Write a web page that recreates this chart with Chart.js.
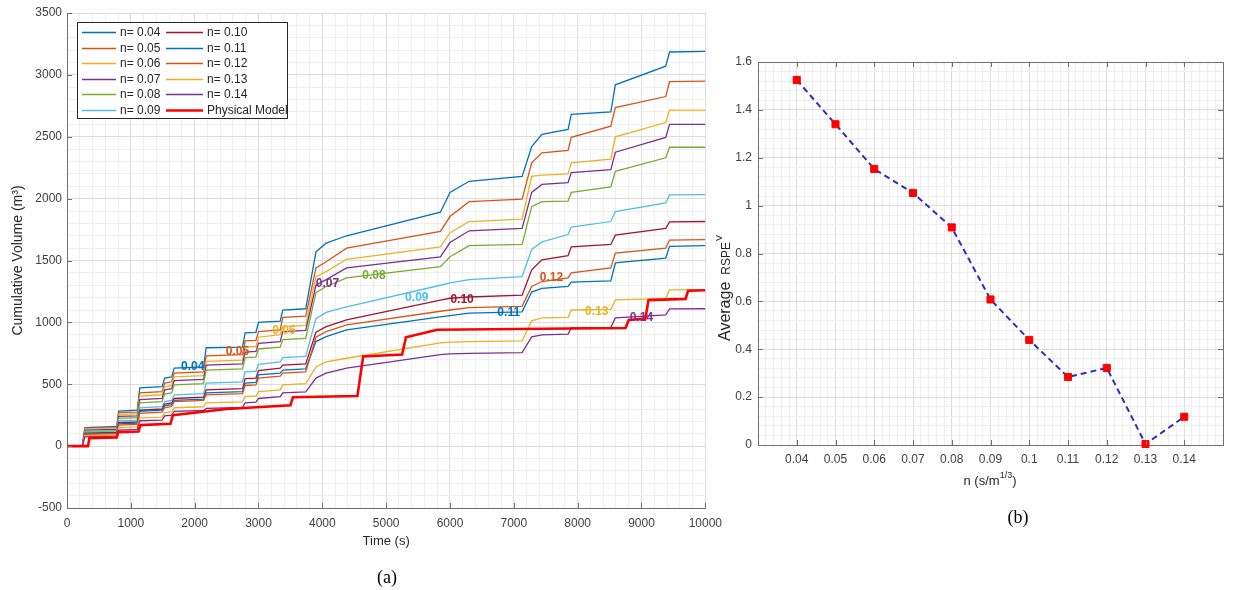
<!DOCTYPE html>
<html><head><meta charset="utf-8">
<script src="https://cdn.jsdelivr.net/npm/chart.js@4.4.0/dist/chart.umd.min.js"></script>
<style>
html,body{margin:0;padding:0;background:#fff;width:1243px;height:590px;overflow:hidden;}
#ca{position:absolute;left:0;top:0;}
#cb{position:absolute;left:700px;top:0;}
.cap{position:absolute;font-family:"Liberation Serif","Times New Roman",serif;font-size:18px;color:#000;transform:translate(-50%,-50%);}
</style></head><body>
<canvas id="ca" width="730" height="590"></canvas>
<canvas id="cb" width="543" height="590"></canvas>
<div class="cap" style="left:387px;top:577px">(a)</div>
<div class="cap" style="left:1018px;top:517px">(b)</div>
<script>
// ---------- Panel (a) data ----------
const timeT = [0,240,280,780,810,1100,1140,1490,1530,1640,1680,2140,2180,2750,2790,2960,3000,3340,3380,3740,3900,4060,4380,5850,6000,6300,7130,7280,7440,7850,7900,8520,8590,9380,9440,10000];
const n04 = [0,0,150,160,283,290,470,480,550,560,630,640,795,800,915,920,1000,1010,1100,1110,1570,1640,1700,1890,2050,2140,2180,2420,2520,2560,2680,2700,2920,3070,3185,3190];
const n05 = [0,0,145,150,270,275,430,440,510,520,590,600,730,740,850,855,925,940,1040,1050,1440,1490,1600,1735,1855,1975,1995,2290,2370,2390,2495,2585,2735,2825,2945,2950];
const n06 = [0,0,140,145,255,260,405,415,480,490,560,570,685,695,800,805,880,900,965,975,1370,1410,1510,1610,1725,1815,1835,2180,2190,2200,2290,2320,2500,2615,2715,2715];
const n07 = [0,0,130,135,240,245,375,385,455,465,530,540,655,665,760,765,830,845,925,935,1300,1345,1440,1530,1645,1740,1760,2050,2115,2130,2210,2235,2375,2495,2600,2600];
const n08 = [0,0,120,125,225,230,350,360,420,430,495,505,615,625,715,720,785,800,860,870,1240,1290,1360,1450,1530,1620,1630,1935,1975,1980,2050,2095,2220,2330,2415,2415];
const n09 = [0,0,115,120,205,210,310,320,360,370,415,425,510,520,600,605,660,680,715,725,1030,1080,1125,1300,1320,1345,1370,1590,1650,1710,1770,1815,1895,1965,2030,2032];
const n10 = [0,0,105,110,190,195,290,300,340,350,385,395,455,465,545,550,610,630,655,665,920,965,1020,1180,1195,1205,1220,1425,1505,1540,1610,1630,1705,1760,1812,1815];
const n11 = [0,0,100,105,180,185,280,290,325,335,370,380,430,440,510,515,575,590,615,625,845,885,940,1045,1055,1075,1085,1245,1275,1290,1325,1335,1480,1520,1615,1620];
const n12 = [0,0,95,100,170,175,265,275,310,320,360,370,415,425,490,495,550,565,590,600,880,925,980,1090,1100,1120,1130,1290,1330,1360,1400,1440,1560,1600,1665,1668];
const n13 = [0,0,85,90,150,155,228,235,270,278,310,318,350,358,400,405,440,455,495,505,640,680,710,835,840,845,850,1012,1036,1040,1100,1105,1182,1192,1263,1265];
const n14 = [0,0,75,80,130,135,205,210,245,250,280,288,305,312,350,355,385,400,430,438,550,590,630,740,745,750,755,883,899,905,955,960,1036,1060,1109,1110];
const physT = [0,330,350,780,800,1120,1150,1620,1660,2500,3500,3540,4550,4640,5250,5310,5800,8750,8800,9060,9110,9690,9730,10000];
const physV = [0,0,65,70,113,118,170,180,250,300,330,395,405,725,740,880,940,955,1020,1030,1180,1190,1255,1260];
const seriesNames = ['0.04','0.05','0.06','0.07','0.08','0.09','0.10','0.11','0.12','0.13','0.14'];
const seriesColors = ['#0072BD','#D95319','#EDB120','#7E2F8E','#77AC30','#4DBEEE','#A2142F','#0072BD','#D95319','#EDB120','#7E2F8E'];
const labelT = [1970,2670,3400,4080,4810,5480,6190,6920,7590,8300,9000];
const labelV = [640,761,931,1312,1377,1198,1182,1077,1360,1085,1036];
const xTicksA = [0,1000,2000,3000,4000,5000,6000,7000,8000,9000,10000];
const yTicksA = [-500,0,500,1000,1500,2000,2500,3000,3500];

// ---------- Panel (b) data ----------
const nVals = [0.04,0.05,0.06,0.07,0.08,0.09,0.10,0.11,0.12,0.13,0.14];
const rspe = [1.525,1.34,1.153,1.053,0.909,0.608,0.439,0.284,0.322,0.004,0.118];
const xTicksB = [0.04,0.05,0.06,0.07,0.08,0.09,0.1,0.11,0.12,0.13,0.14];
const yTicksB = [0,0.2,0.4,0.6,0.8,1,1.2,1.4,1.6];

Chart.defaults.font.family = '"Liberation Sans", Arial, sans-serif';
const MAJOR = '#dcdcdc', MINOR = '#efefef', AXIS = '#707070', TXT = '#404040';
const isIn = (arr, v) => arr.some(t => Math.abs(t - v) < 1e-9);
const seq = (a, b, step, dec) => { const r = []; const n = Math.round((b - a) / step); for (let i = 0; i <= n; i++) r.push(+(a + i * step).toFixed(dec)); return r; };

const inTicks = {
  id: 'inTicks',
  afterDatasetsDraw(chart, args, o) {
    const {ctx, chartArea: a} = chart; const xs = chart.scales.x, ys = chart.scales.y;
    ctx.save(); ctx.strokeStyle = AXIS; ctx.lineWidth = 1; ctx.beginPath();
    for (const v of o.xMajor) { const p = Math.round(xs.getPixelForValue(v)) + 0.5;
      ctx.moveTo(p, a.bottom); ctx.lineTo(p, a.bottom - o.len);
      if (o.box) { ctx.moveTo(p, a.top); ctx.lineTo(p, a.top + o.len); } }
    for (const v of o.yMajor) { const p = Math.round(ys.getPixelForValue(v)) + 0.5;
      ctx.moveTo(a.left, p); ctx.lineTo(a.left + o.len, p);
      if (o.box) { ctx.moveTo(a.right, p); ctx.lineTo(a.right - o.len, p); } }
    if (o.box) { const t = Math.round(a.top) + 0.5, r = Math.round(a.right) + 0.5;
      ctx.moveTo(a.left, t); ctx.lineTo(r, t); ctx.lineTo(r, a.bottom); }
    ctx.stroke(); ctx.restore();
  }
};

const seriesValues = [n04,n05,n06,n07,n08,n09,n10,n11,n12,n13,n14];
const dsA = seriesValues.map((vals, i) => ({
  label: 'n= ' + seriesNames[i],
  data: timeT.map((t, j) => ({x: t, y: vals[j]})),
  borderColor: seriesColors[i], borderWidth: 1.3, pointRadius: 0, order: 13 - i
}));
dsA.push({label: 'Physical Model', data: physT.map((t, j) => ({x: t, y: physV[j]})),
  borderColor: '#FF0000', borderWidth: 2.6, pointRadius: 0, order: 1});

const inlineLabels = {
  id: 'inlineLabels',
  afterDatasetsDraw(chart) {
    const {ctx} = chart; const xs = chart.scales.x, ys = chart.scales.y;
    ctx.save(); ctx.font = 'bold 12px "Liberation Sans", Arial, sans-serif';
    ctx.textAlign = 'center'; ctx.textBaseline = 'middle';
    seriesNames.forEach((s, i) => { ctx.fillStyle = seriesColors[i];
      ctx.fillText(s, xs.getPixelForValue(labelT[i]), ys.getPixelForValue(labelV[i])); });
    ctx.restore();
  }
};

const legendBox = {
  id: 'legendBox',
  afterDraw(chart) {
    const {ctx} = chart; const ds = chart.data.datasets;
    ctx.save();
    ctx.fillStyle = '#fff'; ctx.fillRect(77, 22, 211, 97);
    ctx.strokeStyle = '#262626'; ctx.lineWidth = 1; ctx.strokeRect(77.5, 22.5, 210, 96);
    ctx.font = '12px "Liberation Sans", Arial, sans-serif'; ctx.textBaseline = 'middle'; ctx.fillStyle = '#262626';
    const rowY = [32, 48, 63, 79, 94, 110];
    ds.forEach((d, i) => {
      const col = i < 6 ? 0 : 1; const row = i < 6 ? i : i - 6;
      const y = rowY[row] + 0.5; const x0 = col ? 166 : 82, x1 = col ? 203 : 116, tx = col ? 207 : 120;
      ctx.strokeStyle = d.borderColor; ctx.lineWidth = d.borderWidth;
      ctx.beginPath(); ctx.moveTo(x0, y); ctx.lineTo(x1, y); ctx.stroke();
      ctx.fillStyle = '#262626'; ctx.fillText(d.label, tx, rowY[row] + 1);
    });
    ctx.restore();
  }
};

new Chart(document.getElementById('ca'), {
  type: 'line',
  data: {datasets: dsA},
  plugins: [inTicks, inlineLabels, legendBox],
  options: {
    responsive: false, animation: false, devicePixelRatio: 1, events: [],
    layout: {padding: {left: 0, right: 23, top: 13, bottom: 0}},
    elements: {line: {tension: 0}},
    plugins: {legend: {display: false}, tooltip: {enabled: false},
      inTicks: {xMajor: xTicksA, yMajor: yTicksA, len: 5, box: false}},
    scales: {
      x: {type: 'linear', min: 0, max: 10000,
        afterBuildTicks: s => { s.ticks = seq(0, 10000, 200, 0).map(v => ({value: v})); },
        afterFit: s => { s.height = 82; },
        ticks: {autoSkip: false, maxRotation: 0, minRotation: 0, padding: 8, color: TXT, font: {size: 12},
          callback: v => isIn(xTicksA, v) ? String(v) : ''},
        grid: {drawTicks: false, color: c => (c.tick && isIn(xTicksA, c.tick.value)) ? MAJOR : MINOR},
        border: {display: true, color: AXIS, width: 1},
        title: {display: true, text: 'Time (s)', color: '#262626', font: {size: 13}, padding: {top: 0, bottom: 41}}},
      y: {type: 'linear', min: -500, max: 3500,
        afterBuildTicks: s => { s.ticks = seq(-500, 3500, 100, 0).map(v => ({value: v})); },
        afterFit: s => { s.width = 67; },
        ticks: {autoSkip: false, padding: 5, color: TXT, font: {size: 12},
          callback: v => isIn(yTicksA, v) ? String(v) : ''},
        grid: {drawTicks: false, color: c => (c.tick && isIn(yTicksA, c.tick.value)) ? MAJOR : MINOR},
        border: {display: true, color: AXIS, width: 1},
        title: {display: true, text: 'Cumulative Volume (m³)', color: '#262626', font: {size: 14}, padding: {top: 10, bottom: 0}}}
    }
  }
});

// ---------- Panel (b) ----------
const OX = 700; // canvas offset on the page
const titlesB = {
  id: 'titlesB',
  afterDraw(chart) {
    const {ctx} = chart; const F = '"Liberation Sans", Arial, sans-serif';
    ctx.save(); ctx.fillStyle = '#262626'; ctx.textBaseline = 'alphabetic';
    // y title (rotated)
    ctx.translate(730 - OX, 341); ctx.rotate(-Math.PI / 2);
    ctx.font = '16px ' + F; ctx.fillText('Average', 0, 0);
    let w = ctx.measureText('Average').width + 7;
    ctx.font = '12px ' + F; ctx.fillText('RSPE', w, 0);
    w += ctx.measureText('RSPE').width + 1;
    ctx.font = '9px ' + F; ctx.fillText('V', w, -8);
    ctx.setTransform(1, 0, 0, 1, 0, 0);
    // x title
    ctx.font = '13px ' + F;
    const a = 'n (s/m', b = '1/3', c = ')';
    const wa = ctx.measureText(a).width, wc = ctx.measureText(c).width;
    ctx.font = '9px ' + F; const wb = ctx.measureText(b).width;
    let x = 990 - OX - (wa + wb + wc) / 2; const y = 485;
    ctx.font = '13px ' + F; ctx.fillText(a, x, y); x += wa;
    ctx.font = '9px ' + F; ctx.fillText(b, x, y - 7); x += wb;
    ctx.font = '13px ' + F; ctx.fillText(c, x, y);
    ctx.restore();
  }
};

new Chart(document.getElementById('cb'), {
  type: 'line',
  data: {datasets: [{
    label: 'Average RSPE',
    data: nVals.map((n, i) => ({x: n, y: rspe[i]})),
    borderColor: '#2E2EB8', borderWidth: 2, borderDash: [6, 4],
    pointStyle: 'rect', pointRadius: 5, pointBackgroundColor: '#FF0000', pointBorderColor: '#FF0000', pointBorderWidth: 1,
    clip: false
  }]},
  plugins: [inTicks, titlesB],
  options: {
    responsive: false, animation: false, devicePixelRatio: 1, events: [],
    layout: {padding: {left: 0, right: 20, top: 62, bottom: 0}},
    elements: {line: {tension: 0}},
    plugins: {legend: {display: false}, tooltip: {enabled: false},
      inTicks: {xMajor: xTicksB, yMajor: yTicksB, len: 5, box: true}},
    scales: {
      x: {type: 'linear', min: 0.03, max: 0.15,
        afterBuildTicks: s => { s.ticks = seq(0.03, 0.15, 0.002, 4).map(v => ({value: v})); },
        afterFit: s => { s.height = 145; },
        ticks: {autoSkip: false, maxRotation: 0, minRotation: 0, padding: 7, color: TXT, font: {size: 12},
          callback: v => isIn(xTicksB, v) ? String(+v.toFixed(2)) : ''},
        grid: {drawTicks: false, color: c => (c.tick && isIn(xTicksB, c.tick.value)) ? MAJOR : MINOR},
        border: {display: true, color: AXIS, width: 1}},
      y: {type: 'linear', min: 0, max: 1.6,
        afterBuildTicks: s => { s.ticks = seq(0, 1.6, 0.04, 4).map(v => ({value: v})); },
        afterFit: s => { s.width = 758 - OX; },
        ticks: {autoSkip: false, padding: 6, color: TXT, font: {size: 12},
          callback: v => isIn(yTicksB, v) ? String(+v.toFixed(1)) : ''},
        grid: {drawTicks: false, color: c => (c.tick && isIn(yTicksB, c.tick.value)) ? MAJOR : MINOR},
        border: {display: true, color: AXIS, width: 1}}
    }
  }
});
</script>
</body></html>
